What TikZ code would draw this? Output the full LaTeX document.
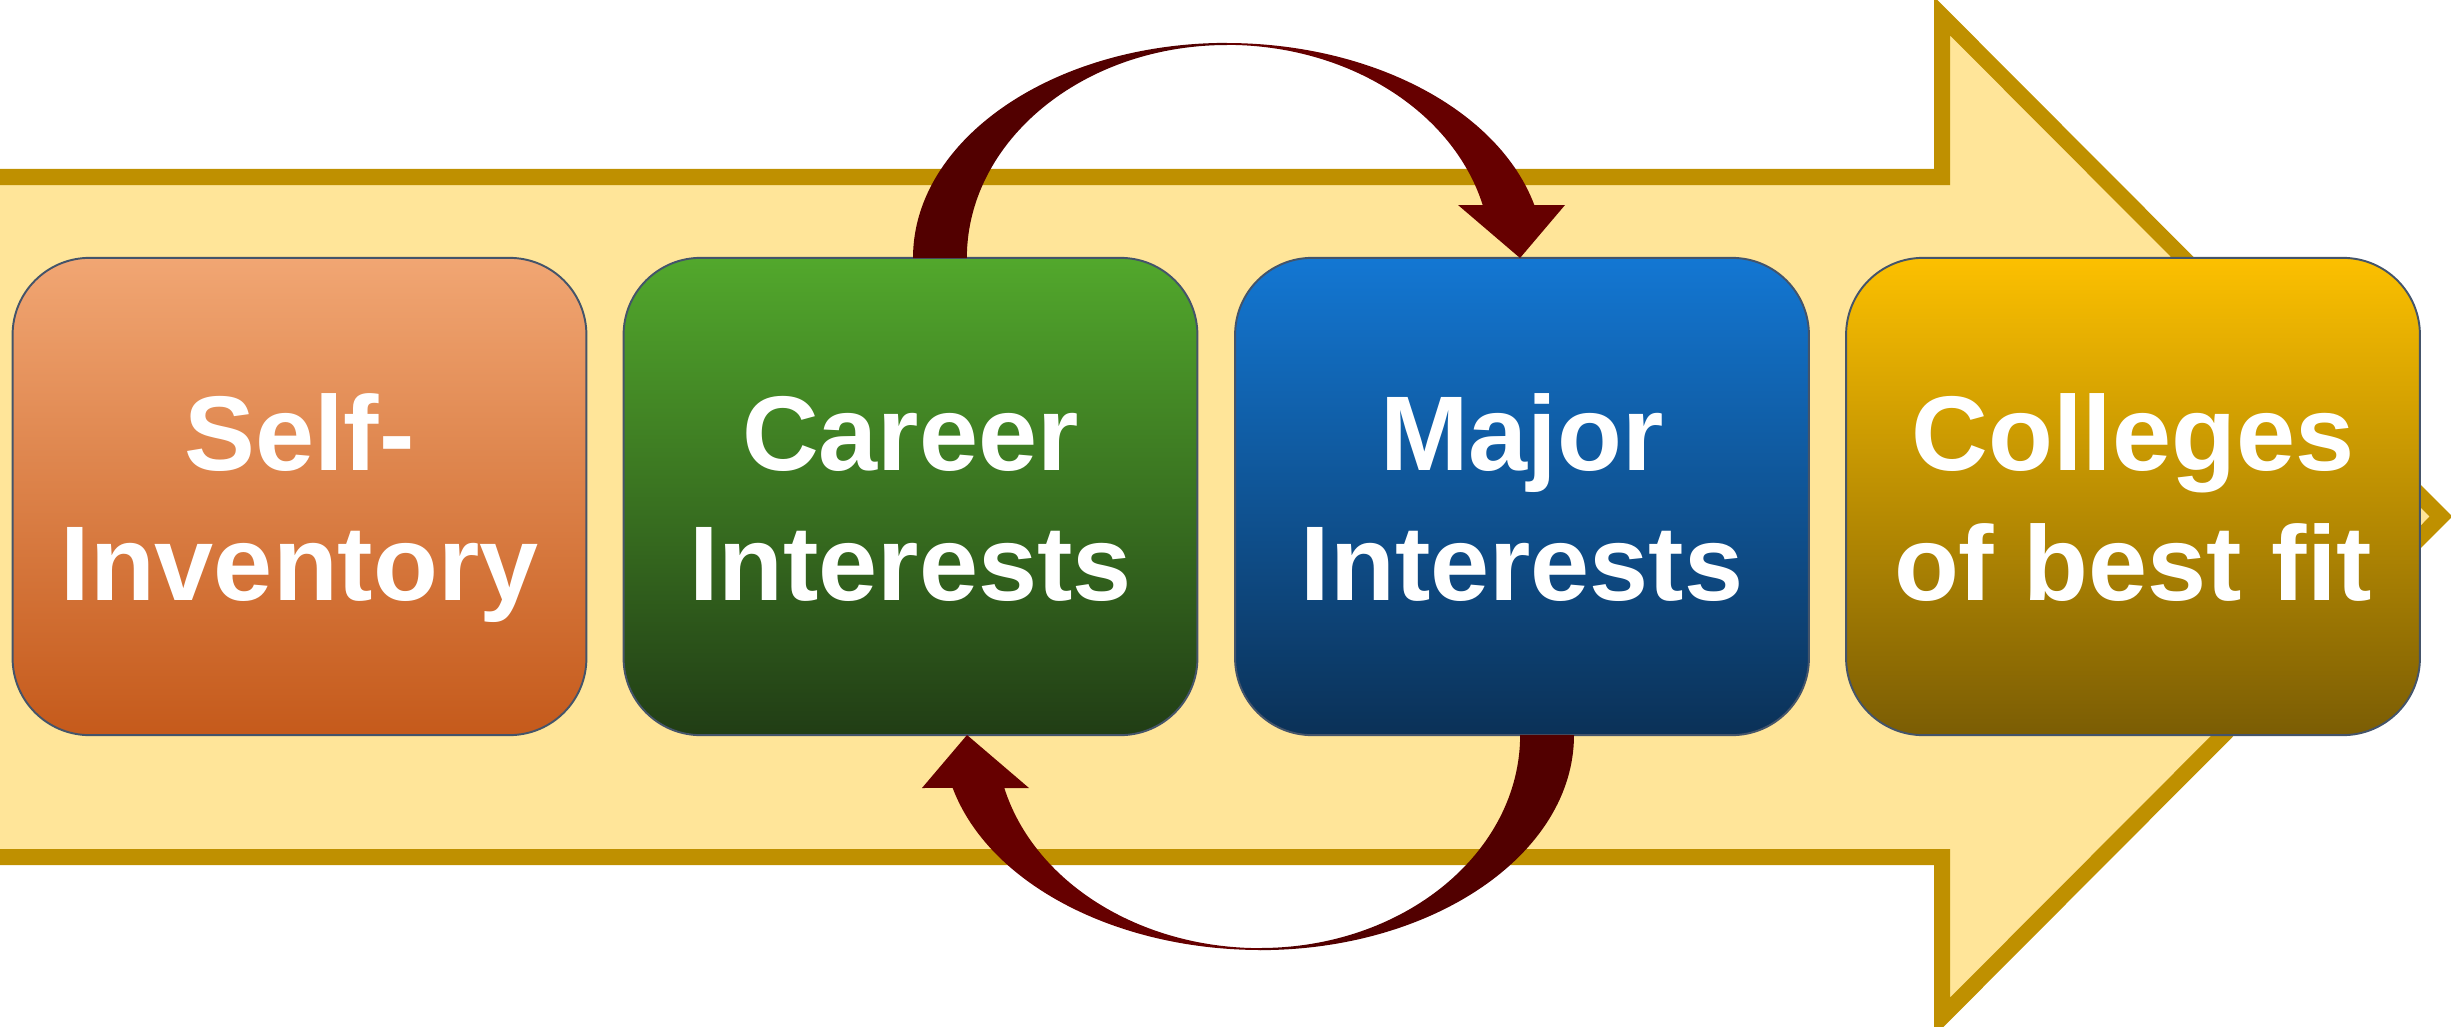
\documentclass[tikz,border=0pt]{standalone}
\usepackage{fontspec}
\setmainfont{Liberation Sans}
\definecolor{bandfill}{HTML}{FFE599}
\definecolor{bandline}{HTML}{BF9000}
\definecolor{boxline}{HTML}{44546A}
\definecolor{arrA}{HTML}{520000}
\definecolor{arrB}{HTML}{660000}
\definecolor{oTop}{HTML}{F1A673}
\definecolor{oBot}{HTML}{C55A1B}
\definecolor{gTop}{HTML}{52A82C}
\definecolor{gBot}{HTML}{213D15}
\definecolor{bTop}{HTML}{1377D3}
\definecolor{bBot}{HTML}{0B3157}
\definecolor{yTop}{HTML}{FCC000}
\definecolor{yBot}{HTML}{7B5D04}
\tikzset{
  stepbox/.style={rounded corners=0.77cm, minimum width=5.735cm, minimum height=4.77cm,
    inner sep=0pt, draw=boxline, line width=0.55pt},
  lbl/.style={text=white, font=\fontsize{30.2pt}{36pt}\selectfont\bfseries, anchor=base, inner sep=0pt},
  bigarrow/.style={draw=bandline, fill=bandfill, line width=0.16cm},
}
\newcommand\cycarrow{%
  \fill[arrA] (913,768) arc[start angle=180,end angle=90,x radius=3.14cm,y radius=2.15cm]
     -- (1227,981) arc[start angle=90,end angle=180,x radius=2.60cm,y radius=2.13cm] -- cycle;
  \fill[arrB] (1226,983) arc[start angle=90,end angle=14.27,x radius=3.18cm,y radius=2.15cm]
     -- (1565,821) -- (1520,768) -- (1458,821) -- (1482.7,821)
     arc[start angle=14.4,end angle=90,x radius=2.64cm,y radius=2.13cm] -- cycle;}
\begin{document}
\begin{tikzpicture}[x=0.01cm,y=0.01cm]
\useasboundingbox (0,0) rectangle (2451,1026);
\draw[bigarrow] (-60,849) -- (1942,849) -- (1942,1010) -- (2441,509.5) -- (1942,9) -- (1942,169) -- (-60,169) -- cycle;
\node[stepbox, top color=oTop, bottom color=oBot] (b1) at (299.5,529.5) {};
\node[stepbox, top color=gTop, bottom color=gBot] (b2) at (910.5,529.5) {};
\node[stepbox, top color=bTop, bottom color=bBot] (b3) at (1522,529.5) {};
\node[stepbox, top color=yTop, bottom color=yBot] (b4) at (2133,529.5) {};
\node[lbl] (t1a) at ([yshift=0.255cm]b1.center) {Self-};
\node[lbl] (t1b) at ([yshift=-1.04cm]b1.center) {Inventory};
\node[lbl] (t2a) at ([yshift=0.255cm]b2.center) {Career};
\node[lbl] (t2b) at ([yshift=-1.04cm]b2.center) {Interests};
\node[lbl] (t3a) at ([yshift=0.255cm]b3.center) {Major};
\node[lbl] (t3b) at ([yshift=-1.04cm]b3.center) {Interests};
\node[lbl] (t4a) at ([yshift=0.255cm]b4.center) {Colleges};
\node[lbl] (t4b) at ([yshift=-1.04cm]b4.center) {of best fit};
\cycarrow
\begin{scope}[rotate around={180:(1243.5,529.5)}]
\cycarrow
\end{scope}
\end{tikzpicture}
\end{document}
